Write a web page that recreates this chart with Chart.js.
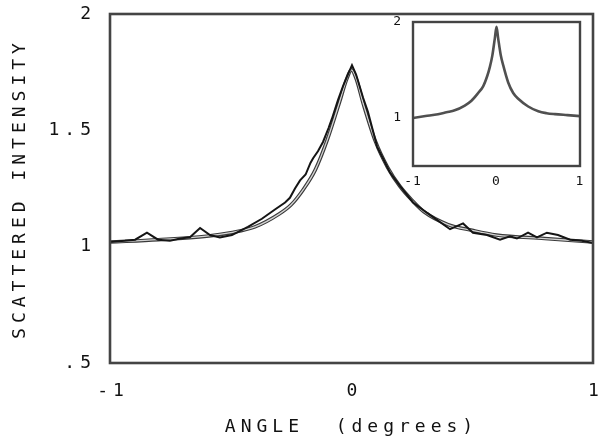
<!DOCTYPE html>
<html>
<head>
<meta charset="utf-8">
<script src="https://cdn.jsdelivr.net/npm/chart.js@4/dist/chart.umd.min.js"></script>
<style>
  html, body { margin: 0; padding: 0; background: #ffffff; }
  #wrap { position: relative; width: 599px; height: 443px; }
  #main { position: absolute; left: 0; top: 0; }
  #inset { position: absolute; left: 380px; top: 0; }
</style>
</head>
<body>
<div id="wrap">
  <canvas id="main" width="599" height="443"></canvas>
  <canvas id="inset" width="219" height="200"></canvas>
</div>
<script>
// ---------- data ----------
const measuredAngle = [-1.00, -0.938, -0.896, -0.847, -0.801, -0.752, -0.710, -0.669, -0.627, -0.586,
  -0.545, -0.495, -0.429, -0.371, -0.317, -0.275, -0.255, -0.234, -0.213, -0.190, -0.170, -0.159,
  -0.139, -0.118, -0.095, -0.081, -0.056, -0.035, -0.019, 0.002, 0.019, 0.048, 0.068,
  0.106, 0.130, 0.159, 0.201, 0.255, 0.313, 0.354, 0.408, 0.462, 0.503,
  0.561, 0.615, 0.656, 0.685, 0.731, 0.768, 0.809, 0.855, 0.905, 0.954, 1.00];
const measuredIntensity = [1.02, 1.025, 1.03, 1.06, 1.03, 1.025, 1.035, 1.04, 1.08, 1.05,
  1.04, 1.05, 1.085, 1.12, 1.16, 1.19, 1.21, 1.25, 1.285, 1.31, 1.36, 1.38,
  1.41, 1.45, 1.51, 1.55, 1.63, 1.69, 1.73, 1.78, 1.74, 1.64, 1.58,
  1.43, 1.38, 1.32, 1.26, 1.19, 1.145, 1.115, 1.075, 1.10, 1.06,
  1.05, 1.03, 1.045, 1.035, 1.06, 1.04, 1.06, 1.05, 1.03, 1.025, 1.016];

const fitAngle = [-1.0, -0.8, -0.6, -0.5, -0.4, -0.3, -0.25, -0.2, -0.15, -0.1, -0.05, -0.02, 0.0,
  0.02, 0.05, 0.1, 0.15, 0.2, 0.25, 0.3, 0.4, 0.5, 0.6, 0.8, 1.0];
const fitIntensity = [1.02, 1.03, 1.045, 1.06, 1.085, 1.14, 1.18, 1.245, 1.33, 1.46, 1.62, 1.72, 1.76,
  1.72, 1.61, 1.45, 1.34, 1.26, 1.20, 1.15, 1.095, 1.07, 1.05, 1.035, 1.02];

const insetAngle = [-1.0, -0.85, -0.7, -0.6, -0.5, -0.38, -0.3, -0.22, -0.16, -0.11, -0.08, -0.05, -0.02, 0.0,
  0.02, 0.05, 0.08, 0.14, 0.2, 0.26, 0.38, 0.5, 0.6, 0.7, 0.85, 1.0];
const insetIntensity = [1.00, 1.02, 1.04, 1.06, 1.08, 1.13, 1.18, 1.26, 1.33, 1.44, 1.53, 1.65, 1.83, 1.95,
  1.83, 1.66, 1.55, 1.37, 1.26, 1.20, 1.12, 1.07, 1.05, 1.04, 1.03, 1.02];

const yTickValues = [0.5, 1, 1.5, 2];
const yTickLabels = ['.5', '1', '1.5', '2'];
const xTickValues = [-1, 0, 1];
const xTickLabels = ['-1', '0', '1'];
const insetYTickValues = [1, 2];
const insetYTickLabels = ['1', '2'];
const insetXTickValues = [-1, 0, 1];
const insetXTickLabels = ['-1', '0', '1'];

const xTitle = 'ANGLE  (degrees)';
const yTitle = 'SCATTERED INTENSITY';

// ---------- helpers ----------
const pts = (xs, ys) => xs.map((x, i) => ({ x: x, y: ys[i] }));
const FONT = "'DejaVu Sans Mono', monospace";

const spacingPlugin = (px) => ({
  id: 'spacing',
  beforeUpdate(chart) { chart.ctx.letterSpacing = px; },
  beforeDraw(chart) { chart.ctx.letterSpacing = px; }
});

const framePlugin = (color, width, fill) => ({
  id: 'frame',
  beforeDatasetsDraw(chart) {
    if (!fill) return;
    const a = chart.chartArea, c = chart.ctx;
    c.save(); c.fillStyle = fill; c.fillRect(a.left, a.top, a.right - a.left, a.bottom - a.top); c.restore();
  },
  afterDraw(chart) {
    const a = chart.chartArea, c = chart.ctx;
    c.save(); c.strokeStyle = color; c.lineWidth = width;
    c.strokeRect(a.left, a.top, a.right - a.left, a.bottom - a.top);
    c.restore();
  }
});

function fixAxis(size, horizontal) {
  return function (scale) {
    if (horizontal) scale.height = size; else scale.width = size;
    scale.paddingLeft = 0; scale.paddingRight = 0; scale.paddingTop = 0; scale.paddingBottom = 0;
  };
}

// ---------- main chart ----------
new Chart(document.getElementById('main'), {
  type: 'line',
  data: {
    datasets: [
      { data: pts(fitAngle, fitIntensity), borderColor: '#3a3a3a', borderWidth: 3.6,
        pointRadius: 0, cubicInterpolationMode: 'monotone', fill: false, order: 3 },
      { data: pts(fitAngle, fitIntensity), borderColor: '#d4d4d4', borderWidth: 1.3,
        pointRadius: 0, cubicInterpolationMode: 'monotone', fill: false, order: 2 },
      { data: pts(measuredAngle, measuredIntensity), borderColor: '#151515', borderWidth: 2,
        pointRadius: 0, tension: 0, fill: false, order: 1 }
    ]
  },
  options: {
    responsive: false, animation: false, devicePixelRatio: 1,
    layout: { padding: { top: 14, right: 6, left: 0, bottom: 0 } },
    plugins: { legend: { display: false }, tooltip: { enabled: false } },
    scales: {
      x: {
        type: 'linear', min: -1, max: 1,
        afterBuildTicks: (s) => { s.ticks = xTickValues.map(v => ({ value: v })); },
        afterFit: fixAxis(80, true),
        grid: { display: false, drawTicks: false },
        border: { display: false },
        ticks: { padding: 18, labelOffset: 3, color: '#111', font: { family: FONT, size: 18 }, maxRotation: 0,
          callback: (v) => xTickLabels[xTickValues.indexOf(v)] },
        title: { display: true, text: xTitle, color: '#111', font: { family: FONT, size: 18 },
          padding: { top: 0, bottom: 5 } }
      },
      y: {
        type: 'linear', min: 0.5, max: 2,
        afterBuildTicks: (s) => { s.ticks = yTickValues.map(v => ({ value: v })); },
        afterFit: fixAxis(110, false),
        grid: { display: false, drawTicks: false },
        border: { display: false },
        ticks: { padding: 14, color: '#111', font: { family: FONT, size: 18 },
          callback: (v) => yTickLabels[yTickValues.indexOf(v)] },
        title: { display: true, text: yTitle, color: '#111', font: { family: FONT, size: 18 },
          padding: { top: 10, bottom: 0 } }
      }
    }
  },
  plugins: [spacingPlugin('5px'), framePlugin('#444', 2.6, null)]
});

// ---------- inset chart ----------
new Chart(document.getElementById('inset'), {
  type: 'line',
  data: {
    datasets: [
      { data: pts(insetAngle, insetIntensity), borderColor: '#505050', borderWidth: 2.6,
        pointRadius: 0, cubicInterpolationMode: 'monotone', fill: false }
    ]
  },
  options: {
    responsive: false, animation: false, devicePixelRatio: 1,
    layout: { padding: { top: 22, right: 19, left: 0, bottom: 0 } },
    plugins: { legend: { display: false }, tooltip: { enabled: false } },
    scales: {
      x: {
        type: 'linear', min: -1, max: 1,
        afterBuildTicks: (s) => { s.ticks = insetXTickValues.map(v => ({ value: v })); },
        afterFit: fixAxis(34, true),
        grid: { display: false, drawTicks: false },
        border: { display: false },
        ticks: { padding: 8, color: '#111', font: { family: FONT, size: 13 }, maxRotation: 0,
          callback: (v) => insetXTickLabels[insetXTickValues.indexOf(v)] },
        title: { display: false }
      },
      y: {
        type: 'linear', min: 0.5, max: 2,
        afterBuildTicks: (s) => { s.ticks = insetYTickValues.map(v => ({ value: v })); },
        afterFit: fixAxis(33, false),
        grid: { display: false, drawTicks: false },
        border: { display: false },
        ticks: { padding: 11, color: '#111', font: { family: FONT, size: 13 },
          callback: (v) => insetYTickLabels[insetYTickValues.indexOf(v)] },
        title: { display: false }
      }
    }
  },
  plugins: [spacingPlugin('1px'), framePlugin('#444', 2.4, '#ffffff')]
});
</script>
</body>
</html>
